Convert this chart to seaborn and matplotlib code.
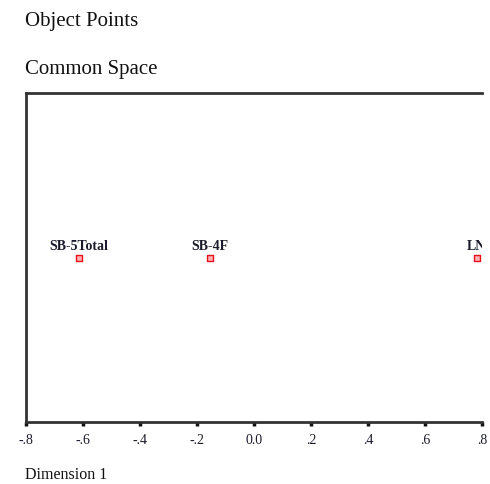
import matplotlib
matplotlib.use("Agg")
import matplotlib.pyplot as plt
import seaborn as sns
import pandas as pd

# Object scores on the first dimension (common space)
objects = ["SB-5Total", "SB-4F", "LN"]
dim1 = [-0.614, -0.154, 0.782]
dim2 = [0.0, 0.0, 0.0]

tick_values = [-0.8, -0.6, -0.4, -0.2, 0.0, 0.2, 0.4, 0.6, 0.8]
tick_labels = ["-.8", "-.6", "-.4", "-.2", "0.0", ".2", ".4", ".6", ".8"]

df = pd.DataFrame({"object": objects, "dim1": dim1, "dim2": dim2})

sns.set_theme(style="white")
plt.rcParams["font.family"] = ["Liberation Serif", "DejaVu Serif"]

fig = plt.figure(figsize=(4.9, 4.85), dpi=100)
ax = fig.add_axes([0.0531, 0.1278, 0.9306, 0.6784])

sns.scatterplot(data=df, x="dim1", y="dim2", ax=ax, marker="s", s=16,
                facecolor="#ffb0b0", edgecolor="#e8101a", linewidth=1.0,
                legend=False, zorder=3)

for name, x, y in zip(df["object"], df["dim1"], df["dim2"]):
    ax.annotate(name, (x, y), xytext=(0, 4), textcoords="offset points",
                ha="center", va="bottom", fontsize=10, color="#1a1a2a",
                fontweight="bold", clip_on=True, annotation_clip=True)

ax.set_xlim(-0.8, 0.8)
ax.set_ylim(-1, 1)
ax.set_xticks(tick_values)
ax.set_xticklabels(tick_labels, fontsize=10)
ax.set_yticks([])
ax.tick_params(axis="x", direction="out", length=3, width=2.5, color="#111111",
               pad=5, bottom=True, labelcolor="#1a1a2a")
ax.set_xlabel("")
ax.set_ylabel("")

for side in ["left", "bottom", "top"]:
    ax.spines[side].set_visible(True)
    ax.spines[side].set_color("#333333")
    ax.spines[side].set_linewidth(2.0)
ax.spines["right"].set_visible(False)

fig.text(0.051, 0.955, "Object Points", fontsize=15, ha="left", va="center",
         color="#111111")
fig.text(0.051, 0.857, "Common Space", fontsize=15, ha="left", va="center",
         color="#111111")
fig.text(0.051, 0.021, "Dimension 1", fontsize=11.5, ha="left", va="center",
         color="#111111")

fig.savefig("out.png", dpi=100, facecolor="white")
